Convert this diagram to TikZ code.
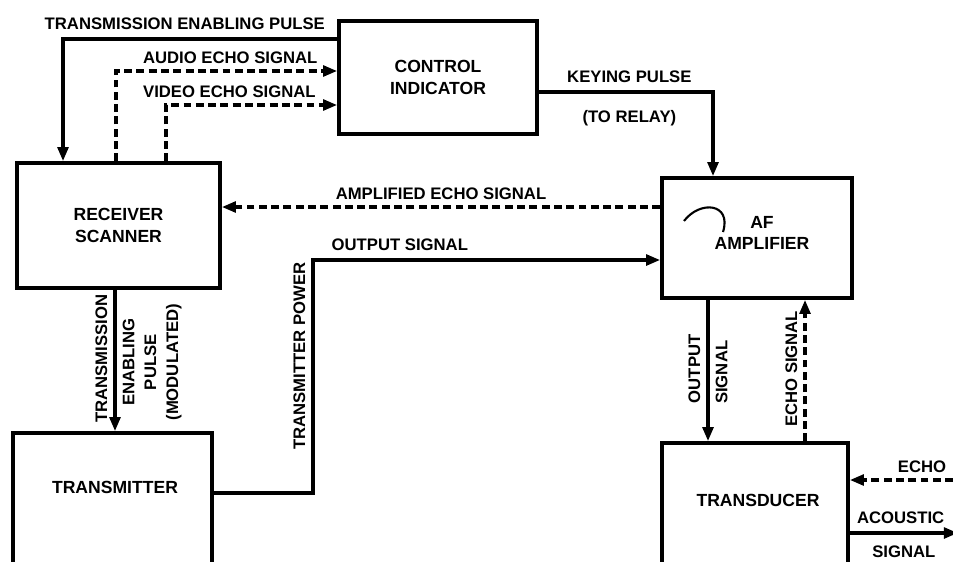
\documentclass[tikz,border=0pt]{standalone}
\usepackage{fontspec}
\setmainfont{Liberation Sans}
\usetikzlibrary{arrows.meta,positioning,calc}

\begin{document}
\begin{tikzpicture}[
    x=0.02cm, y=-0.02cm,
    every node/.style={font=\bfseries\fontsize{9.5}{12.5}\selectfont},
    box/.style={draw, line width=2pt, align=center, inner sep=0pt,
        font=\bfseries\fontsize{10}{13}\selectfont},
    boxtxt/.style={align=center, font=\bfseries\fontsize{10}{12}\selectfont},
    arr/.style={-{Triangle[length=8pt,width=6pt]}, line width=2pt},
    darr/.style={arr, dash pattern=on 4.5pt off 2.5pt}
]
\useasboundingbox (0,0) rectangle (953,561);

% blocks
\node[box, minimum width=3.96cm, minimum height=2.26cm] (ctrl) at (438,77.5) {CONTROL\\INDICATOR};
\node[box, minimum width=4.06cm, minimum height=2.5cm] (rcv) at (118.5,225.5) {RECEIVER\\SCANNER};
\node[box, minimum width=3.98cm, minimum height=2.84cm] (xmtr) at (112.5,504) {};
\node[boxtxt] (xmtrtxt) at (115,487) {TRANSMITTER};
\node[box, minimum width=3.8cm, minimum height=2.4cm] (amp) at (757,238) {};
\node[boxtxt] (amptxt) at (762,233) {AF\\AMPLIFIER};
\node[box, minimum width=3.72cm, minimum height=2.74cm] (xdcr) at (755,511.5) {};
\node[boxtxt] (xdcrtxt) at (758,500) {TRANSDUCER};
\draw[line width=1.2pt] (684,221) .. controls (700,200) and (732,203) .. (723,232);

\coordinate (echoin) at (953,480);
\coordinate (acout) at (958,533);

% signals
\draw[arr] (ctrl.west |- 0,39) -| (rcv.north -| 63,0)
    node[pos=0.278, above=1pt] {TRANSMISSION ENABLING PULSE};
\draw[darr] (rcv.north -| 116,0) |- (ctrl.west |- 0,71)
    node[pos=0.758, above=0pt] {AUDIO ECHO SIGNAL};
\draw[darr] (rcv.north -| 166,0) |- (ctrl.west |- 0,105)
    node[pos=0.685, above=0pt] {VIDEO ECHO SIGNAL};
\draw[arr] (ctrl.east |- 0,92) -| (amp.north -| 713,0)
    node[pos=0.26, above=1pt] {KEYING PULSE}
    node[pos=0.26, below=6pt] {(TO RELAY)};
\draw[darr] (amp.west |- 0,207) -- (rcv.east |- 0,207)
    node[pos=0.5, above=0pt] {AMPLIFIED ECHO SIGNAL};
\draw[arr] (xmtr.east |- 0,493) -| (313,260)
    node[pos=0.79, rotate=90, above=1pt] {TRANSMITTER POWER}
    -- (amp.west |- 0,260)
    node[pos=0.25, above=1pt] {OUTPUT SIGNAL};
\draw[arr] (rcv.south -| 115,0) -- (xmtr.north -| 115,0)
    node[midway, rotate=90, above=1pt] {TRANSMISSION}
    node[midway, rotate=90, below=1pt, align=center] {ENABLING\\PULSE\\(MODULATED)};
\draw[arr] (amp.south -| 708,0) -- (xdcr.north -| 708,0)
    node[midway, rotate=90, above=1pt] {OUTPUT}
    node[midway, rotate=90, below=1pt] {SIGNAL};
\draw[darr] (xdcr.north -| 805,0) -- (amp.south -| 805,0)
    node[midway, rotate=90, above=1pt] {ECHO SIGNAL};
\draw[darr] (echoin) -- (xdcr.east |- echoin)
    node[pos=0.3, above=0pt] {ECHO};
\draw[arr] (xdcr.east |- acout) -- (acout)
    node[pos=0.47, above=1pt] {ACOUSTIC}
    node[pos=0.5, below=3pt] {SIGNAL};
\end{tikzpicture}
\end{document}
